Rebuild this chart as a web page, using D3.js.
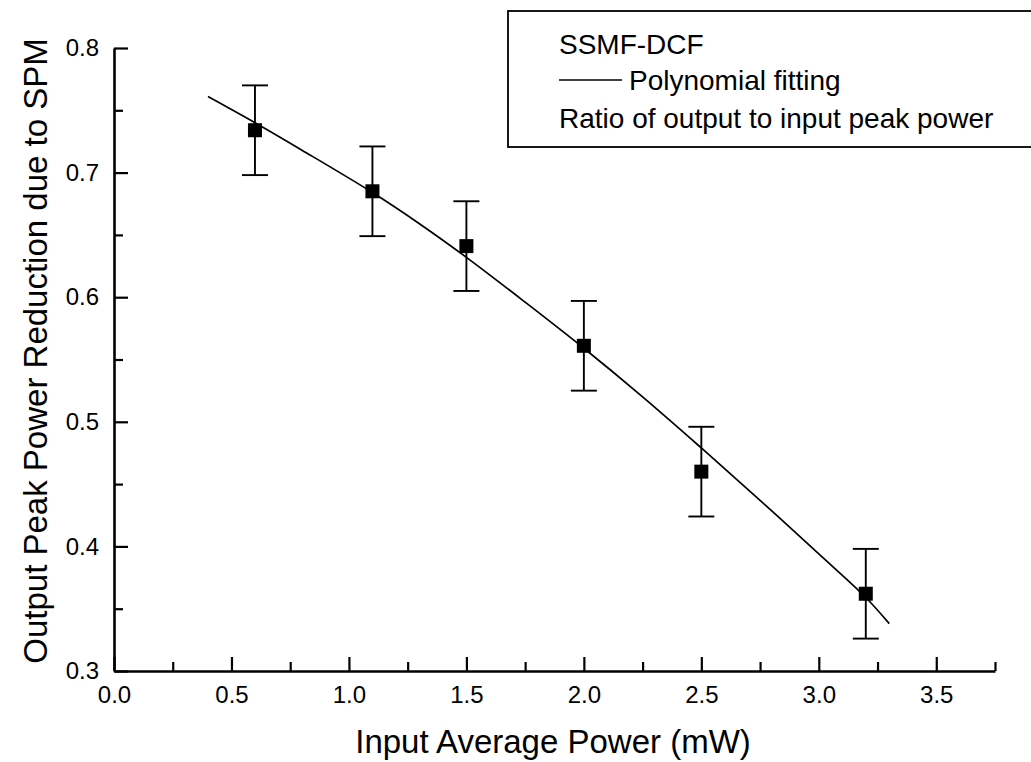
<!DOCTYPE html>
<html><head><meta charset="utf-8">
<script src="https://cdn.jsdelivr.net/npm/d3@7"></script>
<style>body{margin:0;background:#fff}</style>
</head><body>
<svg id="chart" width="1031" height="762"></svg>
<script>
// Data
const inputPower = [0.6, 1.1, 1.5, 2.0, 2.5, 3.2];
const peakRatio = [0.734, 0.685, 0.641, 0.561, 0.460, 0.362];
const ratioError = [0.036, 0.036, 0.036, 0.036, 0.036, 0.036];
const fitX = [0.4, 0.6, 0.8, 1.1, 1.3, 1.5, 1.75, 2.0, 2.25, 2.5, 2.75, 3.0, 3.2, 3.3];
const fitY = [0.761, 0.740, 0.718, 0.684, 0.659, 0.632, 0.596, 0.559, 0.520, 0.479, 0.437, 0.394, 0.359, 0.338];
const xTickValues = [0, 0.5, 1.0, 1.5, 2.0, 2.5, 3.0, 3.5];
const xMinorTicks = [0.25, 0.75, 1.25, 1.75, 2.25, 2.75, 3.25, 3.75];
const yTickValues = [0.3, 0.4, 0.5, 0.6, 0.7, 0.8];
const yMinorTicks = [0.35, 0.45, 0.55, 0.65, 0.75];
const legendLines = ["SSMF-DCF", "Polynomial fitting", "Ratio of output to input peak power"];
const xTitle = "Input Average Power (mW)";
const yTitle = "Output Peak Power Reduction due to SPM";

const font = "'Liberation Sans', Arial, Helvetica, sans-serif";
const svg = d3.select("#chart");
const x = d3.scaleLinear().domain([0, 3.75]).range([114, 995]);
const y = d3.scaleLinear().domain([0.3, 0.8]).range([671, 48]);

// minor ticks
svg.append("g").attr("transform", `translate(0,${y(0.3)})`)
  .call(d3.axisBottom(x).tickValues(xMinorTicks).tickSize(-9).tickSizeOuter(0).tickFormat(""))
  .call(g => g.select(".domain").remove())
  .selectAll("line").attr("stroke", "#000").attr("stroke-width", 2.2);
svg.append("g").attr("transform", `translate(${x(0)},0)`)
  .call(d3.axisLeft(y).tickValues(yMinorTicks).tickSize(-9).tickSizeOuter(0).tickFormat(""))
  .call(g => g.select(".domain").remove())
  .selectAll("line").attr("stroke", "#000").attr("stroke-width", 2.2);

// major axes
const xAxis = svg.append("g").attr("transform", `translate(0,${y(0.3)})`)
  .call(d3.axisBottom(x).tickValues(xTickValues).tickSize(-14).tickSizeOuter(0).tickPadding(15)
    .tickFormat(d3.format(".1f")));
const yAxis = svg.append("g").attr("transform", `translate(${x(0)},0)`)
  .call(d3.axisLeft(y).tickValues(yTickValues).tickSize(-14).tickSizeOuter(0).tickPadding(15)
    .tickFormat(d3.format(".1f")));
[xAxis, yAxis].forEach(a => {
  a.attr("font-size", null).attr("font-family", null);
  a.select(".domain").attr("stroke", "#000").attr("stroke-width", 2.6);
  a.selectAll(".tick line").attr("stroke", "#000").attr("stroke-width", 2.2);
  a.selectAll(".tick text").attr("fill", "#000").style("font-family", font).style("font-size", "24px");
});

// fit curve
const line = d3.line().x(d => x(d[0])).y(d => y(d[1])).curve(d3.curveCatmullRom);
svg.append("path").datum(fitX.map((v, i) => [v, fitY[i]]))
  .attr("d", line).attr("fill", "none").attr("stroke", "#000").attr("stroke-width", 1.7);

// error bars and squares
const pts = inputPower.map((v, i) => ({x: v, y: peakRatio[i], e: ratioError[i]}));
const eb = svg.append("g");
eb.selectAll("line.v").data(pts).join("line").attr("class", "v")
  .attr("x1", d => x(d.x)).attr("x2", d => x(d.x))
  .attr("y1", d => y(d.y + d.e)).attr("y2", d => y(d.y - d.e))
  .attr("stroke", "#000").attr("stroke-width", 1.9);
eb.selectAll("line.t").data(pts).join("line").attr("class", "t")
  .attr("x1", d => x(d.x) - 13).attr("x2", d => x(d.x) + 13)
  .attr("y1", d => y(d.y + d.e)).attr("y2", d => y(d.y + d.e))
  .attr("stroke", "#000").attr("stroke-width", 1.9);
eb.selectAll("line.b").data(pts).join("line").attr("class", "b")
  .attr("x1", d => x(d.x) - 13).attr("x2", d => x(d.x) + 13)
  .attr("y1", d => y(d.y - d.e)).attr("y2", d => y(d.y - d.e))
  .attr("stroke", "#000").attr("stroke-width", 1.9);
svg.append("g").selectAll("rect").data(pts).join("rect")
  .attr("x", d => x(d.x) - 7).attr("y", d => y(d.y) - 7)
  .attr("width", 14).attr("height", 14).attr("fill", "#000");

// axis titles
svg.append("text").attr("x", 553).attr("y", 753)
  .attr("text-anchor", "middle").style("font-family", font).style("font-size", "33px")
  .text(xTitle);
svg.append("text").attr("transform", `translate(47,351) rotate(-90)`)
  .attr("text-anchor", "middle").style("font-family", font).style("font-size", "33px")
  .text(yTitle);

// legend
const lg = svg.append("g");
lg.append("rect").attr("x", 508).attr("y", 11).attr("width", 560).attr("height", 136)
  .attr("fill", "#fff").attr("stroke", "#000").attr("stroke-width", 1.8);
lg.append("text").attr("x", 559).attr("y", 54).style("font-family", font).style("font-size", "28px").text(legendLines[0]);
lg.append("line").attr("x1", 559).attr("x2", 622).attr("y1", 80).attr("y2", 80).attr("stroke", "#000").attr("stroke-width", 1.4);
lg.append("text").attr("x", 629).attr("y", 90).style("font-family", font).style("font-size", "28px").text(legendLines[1]);
lg.append("text").attr("x", 559).attr("y", 128).style("font-family", font).style("font-size", "28px").text(legendLines[2]);
</script>
</body></html>
